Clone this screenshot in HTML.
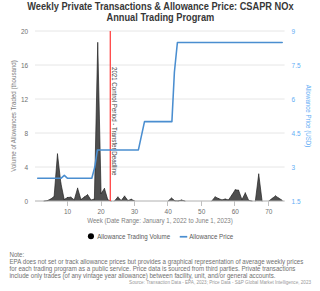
<!DOCTYPE html>
<html><head><meta charset="utf-8"><style>
html,body{margin:0;padding:0;background:#fff;width:320px;height:291px;overflow:hidden}
svg{display:block;font-family:"Liberation Sans",sans-serif}
</style></head><body>
<svg width="320" height="291" viewBox="0 0 320 291">
<rect width="320" height="291" fill="#fff"/>
<text transform="translate(160.40,9.80) scale(1,1.080)" font-size="9.25" fill="#383838" text-anchor="middle" font-weight="bold">Weekly Private Transactions &amp; Allowance Price: CSAPR NOx</text>
<text transform="translate(160.40,20.60) scale(1,1.080)" font-size="9.25" fill="#383838" text-anchor="middle" font-weight="bold">Annual Trading Program</text>
<path d="M35 31 H284.6" stroke="#e6e6e6" stroke-width="1"/>
<path d="M35 65 H284.6" stroke="#e6e6e6" stroke-width="1"/>
<path d="M35 99 H284.6" stroke="#e6e6e6" stroke-width="1"/>
<path d="M35 133 H284.6" stroke="#e6e6e6" stroke-width="1"/>
<path d="M35 167 H284.6" stroke="#e6e6e6" stroke-width="1"/>
<path d="M37.35,201 L37.35,201.00 40.71,201.00 44.06,201.00 47.42,200.60 50.77,199.00 54.12,196.50 57.48,154.00 60.83,183.00 64.19,199.50 67.54,197.50 70.89,197.25 74.25,199.90 77.60,188.25 80.96,199.60 84.31,197.00 87.66,194.75 91.02,200.10 94.37,199.00 97.73,42.70 101.08,193.60 104.43,188.50 107.79,199.80 111.14,201.00 114.50,201.00 117.85,197.00 121.20,200.60 124.56,196.10 127.91,200.60 131.27,199.30 134.62,201.00 137.97,201.00 141.33,201.00 144.68,201.00 148.04,201.00 151.39,201.00 154.74,201.00 158.10,201.00 161.45,201.00 164.81,201.00 168.16,201.00 171.51,198.10 174.87,200.80 178.22,200.90 181.58,200.10 184.93,201.00 188.28,201.00 191.64,201.00 194.99,201.00 198.35,201.00 201.70,201.00 205.05,201.00 208.41,201.00 211.76,201.00 215.12,196.90 218.47,198.50 221.82,199.90 225.18,199.10 228.53,199.90 231.89,195.00 235.24,189.80 238.59,190.30 241.95,199.70 245.30,192.90 248.66,200.40 252.01,201.00 255.36,201.00 258.72,174.10 262.07,201.00 265.43,201.00 268.78,201.00 272.13,198.50 275.49,195.90 278.84,198.20 282.20,200.30 L282.20,201 Z" fill="#4f4f4f"/>
<path d="M44.06,201.00 L47.42,200.60 M47.42,200.60 L50.77,199.00 M50.77,199.00 L54.12,196.50 M54.12,196.50 L57.48,154.00 M57.48,154.00 L60.83,183.00 M60.83,183.00 L64.19,199.50 M64.19,199.50 L67.54,197.50 M67.54,197.50 L70.89,197.25 M70.89,197.25 L74.25,199.90 M74.25,199.90 L77.60,188.25 M77.60,188.25 L80.96,199.60 M80.96,199.60 L84.31,197.00 M84.31,197.00 L87.66,194.75 M87.66,194.75 L91.02,200.10 M91.02,200.10 L94.37,199.00 M94.37,199.00 L97.73,42.70 M97.73,42.70 L101.08,193.60 M101.08,193.60 L104.43,188.50 M104.43,188.50 L107.79,199.80 M107.79,199.80 L111.14,201.00 M114.50,201.00 L117.85,197.00 M117.85,197.00 L121.20,200.60 M121.20,200.60 L124.56,196.10 M124.56,196.10 L127.91,200.60 M127.91,200.60 L131.27,199.30 M131.27,199.30 L134.62,201.00 M168.16,201.00 L171.51,198.10 M171.51,198.10 L174.87,200.80 M174.87,200.80 L178.22,200.90 M178.22,200.90 L181.58,200.10 M181.58,200.10 L184.93,201.00 M211.76,201.00 L215.12,196.90 M215.12,196.90 L218.47,198.50 M218.47,198.50 L221.82,199.90 M221.82,199.90 L225.18,199.10 M225.18,199.10 L228.53,199.90 M228.53,199.90 L231.89,195.00 M231.89,195.00 L235.24,189.80 M235.24,189.80 L238.59,190.30 M238.59,190.30 L241.95,199.70 M241.95,199.70 L245.30,192.90 M245.30,192.90 L248.66,200.40 M248.66,200.40 L252.01,201.00 M255.36,201.00 L258.72,174.10 M258.72,174.10 L262.07,201.00 M268.78,201.00 L272.13,198.50 M272.13,198.50 L275.49,195.90 M275.49,195.90 L278.84,198.20 M278.84,198.20 L282.20,200.30" fill="none" stroke="#222" stroke-width="0.7" stroke-linejoin="round" stroke-linecap="round"/>
<path d="M35 201 H284.6" stroke="#b0b0b0" stroke-width="1"/>
<path d="M67.5 201 V206" stroke="#c0c0c0" stroke-width="1"/>
<path d="M101.5 201 V206" stroke="#c0c0c0" stroke-width="1"/>
<path d="M134.5 201 V206" stroke="#c0c0c0" stroke-width="1"/>
<path d="M167.5 201 V206" stroke="#c0c0c0" stroke-width="1"/>
<path d="M201.5 201 V206" stroke="#c0c0c0" stroke-width="1"/>
<path d="M234.5 201 V206" stroke="#c0c0c0" stroke-width="1"/>
<path d="M268.5 201 V206" stroke="#c0c0c0" stroke-width="1"/>
<path d="M110.3 31 V201" stroke="#ff4545" stroke-width="1.3"/>
<text transform="translate(112.30,67.00) rotate(90) scale(1,1.100)" font-size="6.15" fill="#4a4a4a">2021 Control Period - Transfer Deadline</text>
<path d="M37.7,178.3 L60.9,178.3 L64.3,175.4 L67.6,178.3 L91.8,178.3 L94.8,167.0 L97.4,149.9 L138.4,149.9 L144.5,121.6 L171.9,121.6 L174.4,72 L177.4,42.5 L282.2,42.5" fill="none" stroke="#4a8ed0" stroke-width="1.55" stroke-linejoin="round" stroke-linecap="round"/>
<text transform="translate(67.54,214.00) scale(1,1.100)" font-size="6.5" fill="#707070" text-anchor="middle">10</text>
<text transform="translate(101.08,214.00) scale(1,1.100)" font-size="6.5" fill="#707070" text-anchor="middle">20</text>
<text transform="translate(134.62,214.00) scale(1,1.100)" font-size="6.5" fill="#707070" text-anchor="middle">30</text>
<text transform="translate(168.16,214.00) scale(1,1.100)" font-size="6.5" fill="#707070" text-anchor="middle">40</text>
<text transform="translate(201.70,214.00) scale(1,1.100)" font-size="6.5" fill="#707070" text-anchor="middle">50</text>
<text transform="translate(235.24,214.00) scale(1,1.100)" font-size="6.5" fill="#707070" text-anchor="middle">60</text>
<text transform="translate(268.78,214.00) scale(1,1.100)" font-size="6.5" fill="#707070" text-anchor="middle">70</text>
<text transform="translate(28.25,34.30) scale(1,1.100)" font-size="6.5" fill="#707070" text-anchor="end">20</text>
<text transform="translate(28.25,68.30) scale(1,1.100)" font-size="6.5" fill="#707070" text-anchor="end">16</text>
<text transform="translate(28.25,102.30) scale(1,1.100)" font-size="6.5" fill="#707070" text-anchor="end">12</text>
<text transform="translate(28.25,136.30) scale(1,1.100)" font-size="6.5" fill="#707070" text-anchor="end">8</text>
<text transform="translate(28.25,170.30) scale(1,1.100)" font-size="6.5" fill="#707070" text-anchor="end">4</text>
<text transform="translate(28.25,204.30) scale(1,1.100)" font-size="6.5" fill="#707070" text-anchor="end">0</text>
<text transform="translate(291.60,34.30) scale(1,1.100)" font-size="6.5" fill="#62aef5">9</text>
<text transform="translate(291.60,68.30) scale(1,1.100)" font-size="6.5" fill="#62aef5">7.5</text>
<text transform="translate(291.60,102.30) scale(1,1.100)" font-size="6.5" fill="#62aef5">6</text>
<text transform="translate(291.60,136.30) scale(1,1.100)" font-size="6.5" fill="#62aef5">4.5</text>
<text transform="translate(291.60,170.30) scale(1,1.100)" font-size="6.5" fill="#62aef5">3</text>
<text transform="translate(291.60,204.30) scale(1,1.100)" font-size="6.5" fill="#62aef5">1.5</text>
<text transform="translate(16.40,116.00) rotate(-90) scale(1,1.100)" font-size="6.15" fill="#808080" text-anchor="middle">Volume of Allowances Traded (thousand)</text>
<text transform="translate(305.80,116.00) rotate(90) scale(1,1.100)" font-size="6.15" fill="#62aef5" text-anchor="middle">Allowance Price (USD)</text>
<text transform="translate(160.00,222.90) scale(1,1.100)" font-size="6.15" fill="#808080" text-anchor="middle">Week (Date Range: January 1, 2022 to June 1, 2023)</text>
<circle cx="90.95" cy="236.25" r="3.05" fill="#000"/>
<text transform="translate(97.20,239.00) scale(1,1.100)" font-size="6.2" fill="#5a5a5a">Allowance Trading Volume</text>
<path d="M179.75 236.75 H187.25" stroke="#4a8ed0" stroke-width="1.7"/>
<text transform="translate(189.20,239.00) scale(1,1.100)" font-size="6.2" fill="#5a5a5a">Allowance Price</text>
<text transform="translate(9.50,256.60) scale(1,1.100)" font-size="6.165" fill="#707070">Note:</text>
<text transform="translate(9.50,264.10) scale(1,1.100)" font-size="6.165" fill="#707070">EPA does not set or track allowance prices but provides a graphical representation of average weekly prices</text>
<text transform="translate(9.50,271.10) scale(1,1.100)" font-size="6.165" fill="#707070">for each trading program as a public service. Price data is sourced from third parties. Private transactions</text>
<text transform="translate(9.50,278.10) scale(1,1.100)" font-size="6.165" fill="#707070">include only trades (of any vintage year allowance) between facility, unit, and/or general accounts.</text>
<text transform="translate(311.00,283.90)" font-size="4.6" fill="#999" text-anchor="end">Source: Transaction Data - EPA, 2023; Price Data - S&amp;P Global Market Intelligence, 2023</text>
</svg>
</body></html>
